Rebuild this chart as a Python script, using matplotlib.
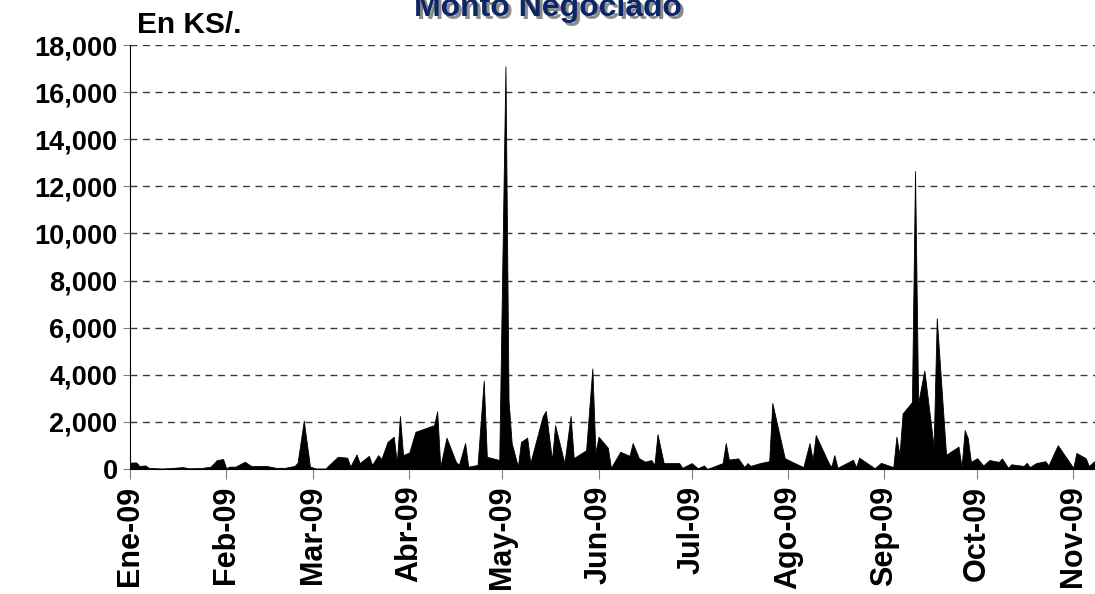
import numpy as np
import pandas as pd
import matplotlib
matplotlib.use("Agg")
import matplotlib.pyplot as plt
from matplotlib.ticker import FuncFormatter

plt.rcParams['font.family'] = ['Liberation Sans', 'DejaVu Sans']

# Daily traded amount (thousands of S/.), day number counted from 2009-01-01
days = [0, 2, 3, 5, 6, 10, 13, 17, 19, 23, 26, 28, 30, 31, 32, 34, 37, 39, 42, 44,
        47, 50, 53, 54, 56, 58, 60, 63, 64, 67, 70, 71, 73, 74, 77, 78, 80, 81, 83, 85,
        86, 87, 88, 90, 92, 98, 99, 100, 102, 105, 106, 108, 109, 112, 114, 115, 119, 121, 122, 123,
        125, 126, 128, 129, 133, 134, 136, 137, 140, 142, 143, 147, 149, 150, 151, 154, 155, 158, 161, 162,
        164, 166, 168, 169, 170, 172, 177, 178, 181, 183, 185, 186, 191, 192, 193, 196, 198, 199, 200, 203,
        206, 207, 211, 213, 217, 219, 220, 221, 225, 226, 227, 228, 233, 234, 235, 240, 242, 246, 247, 248,
        249, 252, 253, 254, 256, 259, 260, 263, 267, 268, 269, 270, 271, 273, 275, 277, 280, 281, 283, 284,
        288, 289, 290, 292, 295, 296, 299, 304, 305, 308, 309, 311]
monto = [270, 280, 130, 150, 50, 20, 40, 80, 30, 40, 100, 380, 420, 30, 100, 100, 310, 130, 130, 130,
         50, 50, 130, 260, 2050, 100, 20, 20, 150, 520, 480, 100, 620, 250, 560, 170, 590, 420, 1150, 1370,
         250, 2250, 590, 700, 1580, 1860, 2450, 100, 1330, 310, 170, 1100, 100, 170, 3750, 520, 380, 17100, 2900, 1100,
         100, 1150, 1330, 250, 2240, 2460, 380, 1860, 250, 2250, 460, 800, 4270, 680, 1370, 900, 50, 730, 560, 1100,
         460, 310, 380, 170, 1480, 250, 250, 50, 250, 30, 150, 0, 250, 1100, 400, 450, 80, 250, 130, 250,
         330, 2800, 460, 330, 80, 1100, 390, 1440, 300, 80, 590, 50, 390, 80, 480, 30, 260, 80, 1370, 600,
         2360, 2840, 12650, 2800, 4180, 950, 6400, 600, 950, 80, 1650, 1310, 300, 460, 150, 380, 300, 450, 50, 200,
         130, 260, 80, 250, 330, 150, 1010, 50, 680, 460, 130, 350]

month_labels = ["Ene-09", "Feb-09", "Mar-09", "Abr-09", "May-09", "Jun-09",
                "Jul-09", "Ago-09", "Sep-09", "Oct-09", "Nov-09"]

start = pd.Timestamp("2009-01-01")
dates = start + pd.to_timedelta(days, unit="D")
month_starts = pd.date_range("2009-01-01", periods=len(month_labels), freq="MS")

fig = plt.figure(figsize=(10.95, 5.94), dpi=100, facecolor="white")
ax = fig.add_axes([130 / 1095, 1 - 469 / 594, 965 / 1095, 424 / 594])

ax.fill_between(dates, monto, 0, color="black", lw=0.6, zorder=3)

ax.set_ylim(0, 18000)
ax.set_xlim(start, start + pd.Timedelta(days=311))
ax.set_yticks(np.arange(0, 18001, 2000))
ax.yaxis.set_major_formatter(FuncFormatter(lambda v, p: f"{v:,.0f}"))
ax.yaxis.grid(True, linestyle=(0, (5, 4)), color="#3a3a3a", lw=1.0, zorder=0)
ax.set_axisbelow(True)

ax.set_xticks(month_starts)
ax.set_xticklabels(month_labels, rotation=90, fontsize=22, fontweight="bold")
for lbl in ax.get_yticklabels():
    lbl.set_fontsize(19.5)
    lbl.set_fontweight("bold")

ax.tick_params(axis="x", direction="out", length=7, color="#808080", pad=5)
ax.tick_params(axis="y", direction="out", length=5, color="#808080", pad=4)

for side in ["top", "right"]:
    ax.spines[side].set_visible(False)
ax.spines["left"].set_color("black")
ax.spines["bottom"].set_color("black")

# Title with a soft drop shadow
fig.text(0.5 + 3 / 1095, 1 - 16 / 594 - 3 / 594, "Monto Negociado", ha="center", va="baseline",
         fontsize=23, fontweight="bold", color="#8c8c8c")
fig.text(0.5, 1 - 16 / 594, "Monto Negociado", ha="center", va="baseline",
         fontsize=23, fontweight="bold", color="#0b2766")

fig.text(137 / 1095, 1 - 33 / 594, "En KS/.", ha="left", va="baseline",
         fontsize=21.5, fontweight="bold", color="black")

fig.savefig("out.png", dpi=100, facecolor="white")
